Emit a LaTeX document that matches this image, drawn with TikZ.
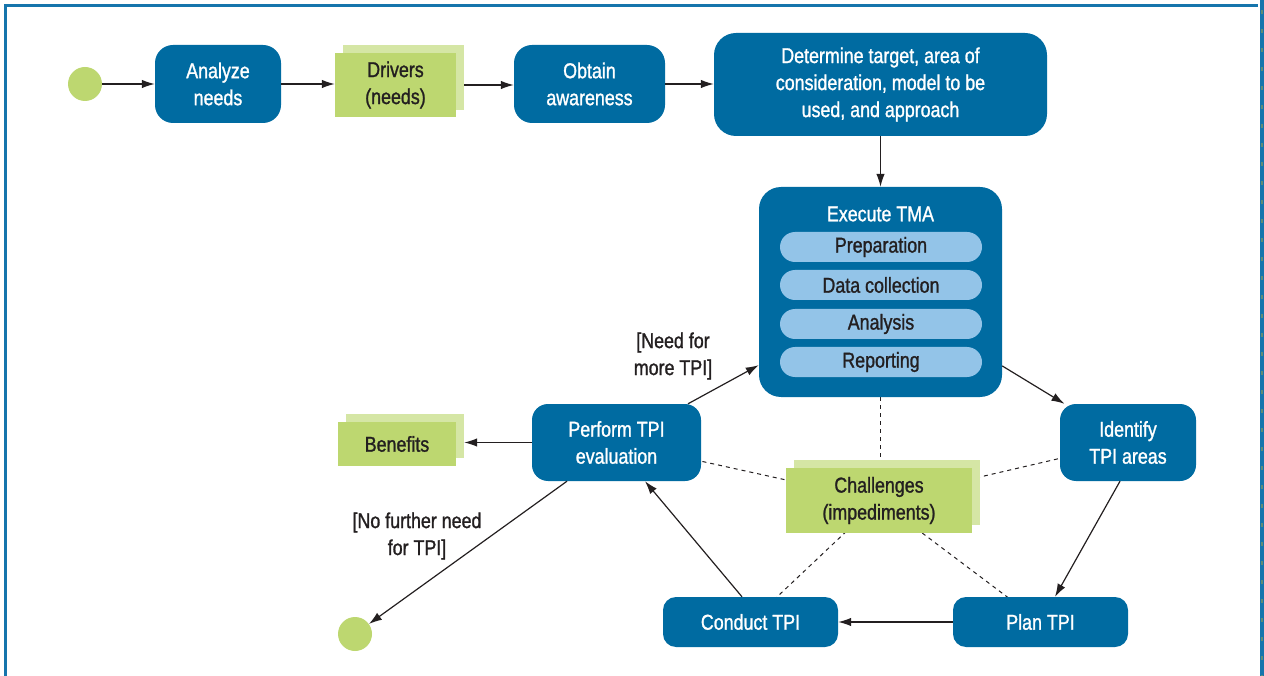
\documentclass[tikz,border=0pt]{standalone}
\usepackage{fontspec}
\setmainfont{Liberation Sans}[FakeStretch=0.83,FakeBold=1.2,BoldFont=*,BoldFeatures={FakeBold=1.2}]
\usetikzlibrary{arrows.meta,backgrounds}
\definecolor{boxblue}{RGB}{0,107,161}
\definecolor{pillblue}{RGB}{147,196,232}
\definecolor{grn}{RGB}{189,215,112}
\definecolor{lgrn}{RGB}{213,230,165}
\definecolor{txt}{RGB}{35,31,32}
\definecolor{frameblue}{RGB}{22,117,172}
\definecolor{hatch}{RGB}{95,140,120}
\tikzset{
  bluebox/.style={fill=boxblue, text=white, rounded corners=18pt, inner sep=0pt, align=center},
  pill/.style={fill=pillblue, text=txt, rounded corners=15pt, inner sep=0pt, minimum width=202pt, minimum height=30pt},
  greenfront/.style={fill=grn, text=txt, inner sep=0pt, align=center},
  greenback/.style={fill=lgrn, inner sep=0pt},
  dot/.style={circle, fill=grn, minimum size=34pt, inner sep=0pt},
  arr/.style={draw=txt, line width=1.2pt, -{Latex[length=13pt,width=8.5pt]}},
  dashline/.style={draw=txt, line width=1pt, dash pattern=on 4pt off 4pt},
  lbl/.style={text=txt, align=center, inner sep=0pt}
}
\begin{document}
\begin{tikzpicture}[x=1pt,y=-1pt,font=\fontsize{21.5}{27}\selectfont]
\useasboundingbox (0,0) rectangle (1264,676);
% frame
\draw[frameblue, line width=2.5pt] (5.5,676) -- (5.5,5.5) -- (1258,5.5);
\fill[frameblue] (1259.5,0) rectangle (1264,676);
\draw[hatch, line width=1.6pt, dash pattern=on 4pt off 15pt] (1262,10) -- (1262,676);

% top row
\node[dot] (start) at (85,84) {};
\node[bluebox, minimum width=126pt, minimum height=78pt] (analyze) at (218,84) {Analyze\\needs};
\node[greenback, minimum width=121pt, minimum height=65pt] (driversb) at (403.5,77.5) {};
\node[greenfront, minimum width=121pt, minimum height=64pt] (drivers) at (395.5,85) {Drivers\\(needs)};
\node[bluebox, minimum width=151pt, minimum height=78pt] (obtain) at (589.5,84) {Obtain\\awareness};
\node[bluebox, rounded corners=22pt, minimum width=333pt, minimum height=103pt] (determine) at (880.5,84.5) {Determine target, area of\\consideration, model to be\\used, and approach};

% execute TMA
\node[bluebox, rounded corners=22pt, minimum width=243pt, minimum height=210pt] (execute) at (880.5,292) {};
\node[text=white, inner sep=0pt] (tma) at (880.5,214) {Execute TMA};
\node[pill] (prep) at (881,247) {Preparation};
\node[pill] (data) at (881,285) {Data collection};
\node[pill] (anal) at (881,324) {Analysis};
\node[pill] (rep) at (881,362) {Reporting};

% cycle
\node[bluebox, rounded corners=16pt, minimum width=136pt, minimum height=77pt] (identify) at (1128,442.5) {Identify\\TPI areas};
\node[bluebox, rounded corners=13pt, minimum width=175pt, minimum height=50pt] (plan) at (1040.5,622) {Plan TPI};
\node[bluebox, rounded corners=13pt, minimum width=175pt, minimum height=50pt] (conduct) at (750.5,622) {Conduct TPI};
\node[bluebox, rounded corners=16pt, minimum width=169pt, minimum height=77pt] (perform) at (616.5,442.5) {Perform TPI\\evaluation};

\node[greenback, minimum width=118pt, minimum height=44pt] (benefitsb) at (405,436) {};
\node[greenfront, minimum width=118pt, minimum height=44pt] (benefits) at (397,444) {Benefits};
\node[greenback, minimum width=186pt, minimum height=65pt] (challb) at (887,492.5) {};
\node[greenfront, minimum width=186pt, minimum height=65pt] (chall) at (879,500.5) {Challenges\\(impediments)};
\node[dot] (end) at (355,634) {};

\node[lbl] (needmore) at (673,356) {[Need for\\more TPI]};
\node[lbl] (nofurther) at (417,536) {[No further need\\for TPI]};

% dashed relations
\begin{scope}[on background layer]
\draw[dashline] (execute.south) -- (execute.south |- challb.center);
\draw[dashline] (perform.center) -- (chall.center);
\draw[dashline] (identify.center) -- (chall.center);
\draw[dashline] (conduct.center) -- (chall.center);
\draw[dashline] (plan.center) -- (chall.center);
\end{scope}

% arrows
\draw[arr] (start) -- (analyze);
\draw[arr] (analyze.east) -- (analyze.east -| drivers.west);
\draw[arr] (drivers.east -| driversb.east) -- (drivers.east -| obtain.west);
\draw[arr] (obtain.east) -- (obtain.east -| determine.west);
\draw[arr] (determine.south) -- (execute.north);
\draw[arr] (execute) -- (identify);
\draw[arr] ([xshift=-8pt]identify.south) -- ([xshift=14.5pt]plan.north);
\draw[arr] (plan.west) -- (conduct.east);
\draw[arr] ([xshift=-8.5pt]conduct.north) -- ([xshift=28.5pt]perform.south);
\draw[arr] ([xshift=71.5pt]perform.north) -- (execute.211);
\draw[arr] (perform.west) -- (perform.west -| benefitsb.east);
\draw[arr] ([xshift=-49.5pt]perform.south) -- (end);
\end{tikzpicture}
\end{document}
